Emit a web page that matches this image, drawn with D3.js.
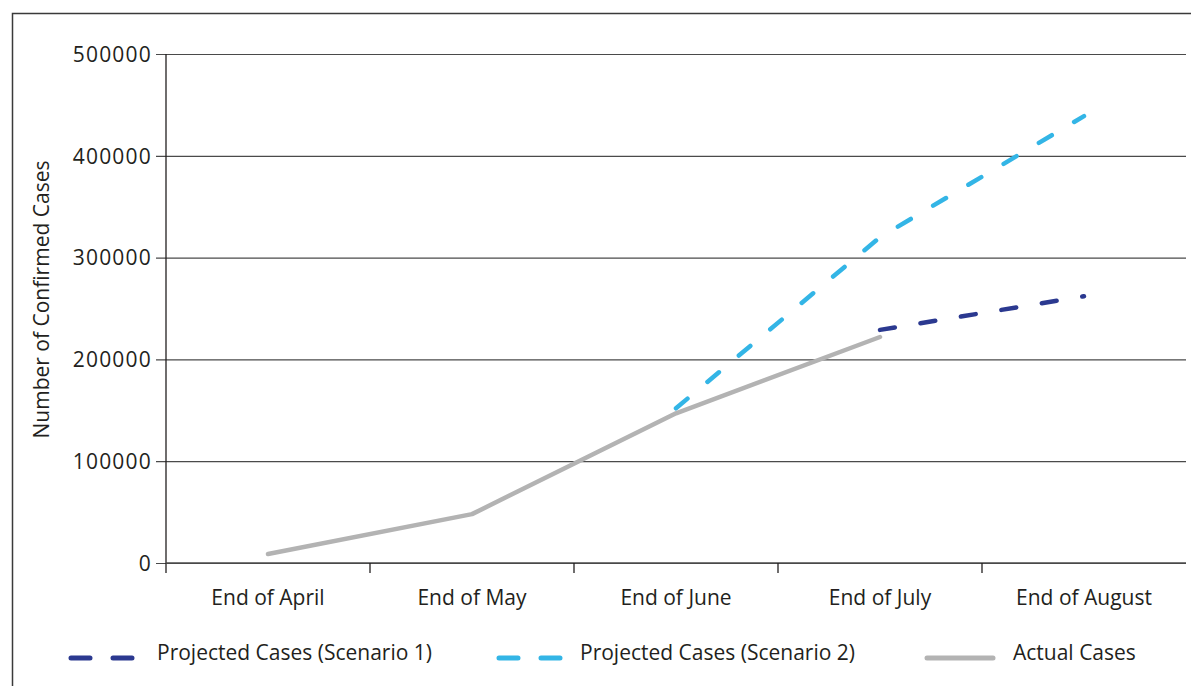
<!DOCTYPE html>
<html>
<head>
<meta charset="utf-8">
<script src="https://cdn.jsdelivr.net/npm/d3@7"></script>
<style>
  html, body { margin: 0; padding: 0; background: #fff; }
  svg { display: block; }
  text { font-family: "Open Sans", "Noto Sans", sans-serif; fill: #231f20; }
</style>
</head>
<body>
<svg id="chart" width="1191" height="686"></svg>
<script>
// Monthly confirmed cases: actual counts and two projection scenarios
const months = ["End of April", "End of May", "End of June", "End of July", "End of August"];
const actualCases = [8800, 48000, 147000, 222000, null];
const scenario1 = [null, null, null, 229000, 262000];
const scenario2 = [null, null, 152000, 320000, 439000];
const yTicks = [0, 100000, 200000, 300000, 400000, 500000];

const series = [
  { name: "Projected Cases (Scenario 1)", values: scenario1, color: "#2b3990", dash: "15 26", width: 4.5 },
  { name: "Projected Cases (Scenario 2)", values: scenario2, color: "#33b5e6", dash: "15 26", width: 4.5 },
  { name: "Actual Cases", values: actualCases, color: "#b3b3b3", dash: null, width: 4.5 }
];

const svg = d3.select("#chart");
const plot = { left: 166, right: 1186, top: 54, bottom: 563 };
const fontSize = 21;

// outer frame (runs past the right and bottom edges of the page)
svg.append("rect")
  .attr("x", 12.5).attr("y", 13.5)
  .attr("width", 1200).attr("height", 700)
  .attr("fill", "none").attr("stroke", "#3a3a3a").attr("stroke-width", 1.5);

const x = d3.scaleBand().domain(months).range([plot.left, plot.right]);
const y = d3.scaleLinear().domain([0, 500000]).range([plot.bottom, plot.top]);

// horizontal gridlines with left-side ticks
const yAxis = d3.axisLeft(y).tickValues(yTicks).tickSize(-(plot.right - plot.left)).tickSizeOuter(0).tickPadding(14).tickFormat(d3.format("d"));
const gy = svg.append("g").attr("transform", `translate(${plot.left},0)`).call(yAxis);
gy.select(".domain").remove();
gy.selectAll(".tick line").attr("x1", -10).attr("stroke", "#4a4a4a").attr("stroke-width", 1.2);
gy.selectAll(".tick text")
  .attr("font-size", fontSize)
  .attr("letter-spacing", "1.2px")
  .attr("fill", "#231f20")
  .attr("dy", "0.35em");

// vertical axis line
svg.append("line")
  .attr("x1", plot.left).attr("x2", plot.left)
  .attr("y1", y(500000)).attr("y2", plot.bottom + 10)
  .attr("stroke", "#231f20").attr("stroke-width", 1.3);

// category axis: ticks sit on the band boundaries
const boundaries = months.map(m => x(m)).concat([x(months[months.length - 1]) + x.bandwidth()]);
svg.append("line")
  .attr("x1", plot.left).attr("x2", plot.right)
  .attr("y1", plot.bottom).attr("y2", plot.bottom)
  .attr("stroke", "#4a4a4a").attr("stroke-width", 1.3);
svg.append("g").selectAll("line").data(boundaries.slice(1, -1)).join("line")
  .attr("x1", d => d).attr("x2", d => d)
  .attr("y1", plot.bottom).attr("y2", plot.bottom + 10)
  .attr("stroke", "#231f20").attr("stroke-width", 1.3);
svg.append("g").selectAll("text").data(months).join("text")
  .attr("x", d => x(d) + x.bandwidth() / 2)
  .attr("y", 605)
  .attr("text-anchor", "middle")
  .attr("font-size", fontSize)
  .text(d => d);

// y-axis title
svg.append("text")
  .attr("transform", `translate(49,${(plot.top + plot.bottom) / 2 - 9}) rotate(-90)`)
  .attr("text-anchor", "middle")
  .attr("font-size", fontSize)
  .text("Number of Confirmed Cases");

// series lines
const line = d3.line()
  .defined(d => d.v != null)
  .x(d => x(d.m) + x.bandwidth() / 2)
  .y(d => y(d.v));

series.forEach(s => {
  const pts = months.map((m, i) => ({ m, v: s.values[i] }));
  svg.append("path")
    .datum(pts)
    .attr("d", line)
    .attr("fill", "none")
    .attr("stroke", s.color)
    .attr("stroke-width", s.width)
    .attr("stroke-linecap", "round")
    .attr("stroke-linejoin", "round")
    .attr("stroke-dasharray", s.dash);
});

// legend
const legendItems = [
  { s: series[0], x0: 71, tx: 157 },
  { s: series[1], x0: 499, tx: 580 },
  { s: series[2], x0: 927, tx: 1013 }
];
const lg = svg.append("g");
legendItems.forEach(it => {
  lg.append("line")
    .attr("x1", it.x0).attr("x2", it.x0 + (it.s.dash ? 63 : 66))
    .attr("y1", 658).attr("y2", 658)
    .attr("stroke", it.s.color)
    .attr("stroke-width", 5)
    .attr("stroke-linecap", "round")
    .attr("stroke-dasharray", it.s.dash ? "19 23" : null);
  lg.append("text")
    .attr("x", it.tx).attr("y", 653)
    .attr("dy", "0.35em")
    .attr("font-size", fontSize)
    .text(it.s.name);
});
</script>
</body>
</html>
